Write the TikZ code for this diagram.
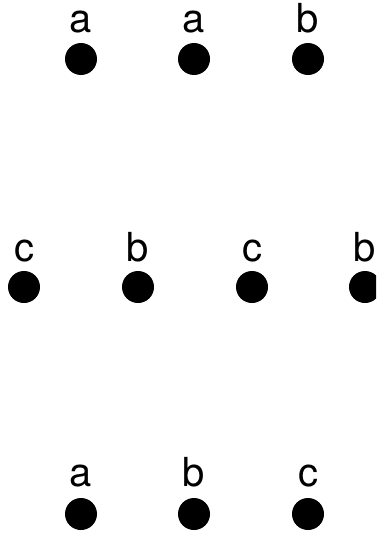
\documentclass[tikz,border=0pt]{standalone}
\usepackage{fontspec}
\setmainfont{TeX Gyre Heros}
\usetikzlibrary{positioning}

\begin{document}
\begin{tikzpicture}[x=1pt, y=1pt,
  dot/.style={circle, fill=black, inner sep=0pt, minimum size=32pt},
  tag/.style={anchor=base, inner sep=0pt, font=\fontsize{40}{40}\selectfont}]
  \clip (0,0) rectangle (376,-533);
  % top row
  \node[dot] (top1) at (81,-59) {};
  \node[dot] (top2) at (194,-59) {};
  \node[dot] (top3) at (308,-59) {};
  \node[tag] (ltop1) at (81,-32) {a};
  \node[tag] (ltop2) at (194,-32) {a};
  \node[tag] (ltop3) at (308,-32) {b};
  % middle row
  \node[dot] (mid1) at (24,-287) {};
  \node[dot] (mid2) at (138,-287) {};
  \node[dot] (mid3) at (252,-287) {};
  \node[dot] (mid4) at (365,-287) {};
  \node[tag] (lmid1) at (24,-261) {c};
  \node[tag] (lmid2) at (138,-261) {b};
  \node[tag] (lmid3) at (252,-261) {c};
  \node[tag] (lmid4) at (365,-261) {b};
  % bottom row
  \node[dot] (bot1) at (81,-514) {};
  \node[dot] (bot2) at (194,-514) {};
  \node[dot] (bot3) at (308,-514) {};
  \node[tag] (lbot1) at (81,-486) {a};
  \node[tag] (lbot2) at (194,-486) {b};
  \node[tag] (lbot3) at (308,-486) {c};
\end{tikzpicture}
\end{document}
